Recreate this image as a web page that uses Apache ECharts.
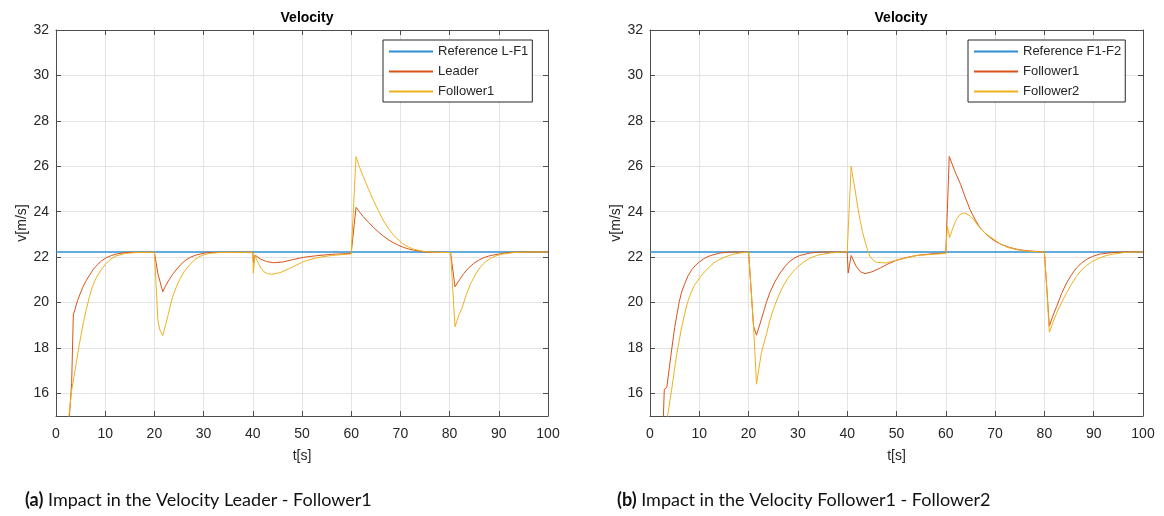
<!DOCTYPE html>
<html>
<head>
<meta charset="utf-8">
<script src="https://cdn.jsdelivr.net/npm/echarts@6/dist/echarts.min.js"></script>
<style>
html,body{margin:0;padding:0;background:#fff;}
#c{width:1164px;height:516px;}
</style>
</head>
<body>
<div id="c"></div>
<script>
// ---- Data ----
const xTicks = [0,10,20,30,40,50,60,70,80,90,100];
const yTicks = [16,18,20,22,24,26,28,30,32];

const refA = [[0,22.22],[100,22.22]];
const leaderA = [[2.7,14.9],[3.18,16.44],[3.52,19.45],[4.4,20.1],[5.4,20.65],[6.1,20.95],[6.8,21.2],[7.6,21.47],[8.5,21.68],[9.3,21.84],[10.2,21.97],[11.2,22.06],[12.2,22.13],[14.2,22.2],[16,22.21],[20,22.21],[20.7,21.28],[21.7,20.47],[22.3,20.75],[23,21.0],[23.7,21.24],[24.4,21.43],[25.4,21.68],[26.4,21.87],[27.4,22.0],[28.5,22.09],[30.5,22.19],[33,22.21],[40,22.21],[40.15,21.75],[40.45,22.09],[41.5,21.92],[42.8,21.8],[44.2,21.75],[46,21.78],[48,21.88],[50.3,21.99],[53,22.06],[56,22.12],[60,22.16],[60.98,24.19],[61.7,23.98],[62.46,23.78],[63.5,23.53],[64.5,23.31],[65.5,23.11],[66.5,22.93],[67.5,22.77],[68.6,22.63],[69.6,22.52],[70.6,22.43],[71.6,22.36],[72.6,22.31],[74,22.26],[75.3,22.22],[78,22.21],[80.2,22.2],[81.1,20.69],[82,21.0],[82.9,21.28],[83.9,21.53],[84.9,21.72],[85.9,21.86],[86.9,21.97],[87.9,22.04],[88.9,22.09],[91.6,22.19],[94,22.22],[100,22.22]];
const follower1A = [[2.57,14.9],[3.2,16.14],[4.1,17.3],[4.7,18.1],[5.4,18.93],[6.1,19.65],[6.8,20.25],[7.4,20.7],[8.1,21.06],[9.1,21.42],[10.2,21.72],[11.2,21.92],[12.2,22.05],[14.2,22.16],[16.3,22.2],[20,22.21],[20.3,20.99],[20.7,19.23],[21.1,18.8],[21.7,18.54],[22.2,18.95],[22.7,19.37],[23.2,19.83],[23.7,20.25],[24.4,20.65],[25.1,21.0],[26.1,21.37],[27.1,21.65],[28.1,21.86],[29.1,22.02],[30.1,22.1],[31.2,22.16],[33.2,22.2],[40,22.21],[40.1,21.28],[40.45,22.09],[40.8,21.88],[41.2,21.7],[41.7,21.5],[42.3,21.35],[43,21.27],[43.8,21.24],[45.5,21.31],[47.5,21.5],[50.3,21.8],[53,21.97],[56,22.07],[60,22.14],[60.98,26.42],[61.7,25.95],[62.46,25.54],[63.5,25.0],[64.5,24.51],[65.5,24.05],[66.5,23.63],[67.5,23.28],[68.6,22.97],[69.6,22.75],[70.6,22.57],[71.6,22.45],[72.6,22.35],[74,22.28],[75.3,22.23],[78,22.2],[80.2,22.2],[81.1,18.93],[81.8,19.4],[82.6,19.8],[83.4,20.35],[84.3,20.84],[85.3,21.25],[86.3,21.57],[87.3,21.79],[88.3,21.94],[89.3,22.04],[90.4,22.12],[93.1,22.2],[96,22.22],[100,22.22]];

const refB = [[0,22.22],[100,22.22]];
const follower1B = [[2.7,14.9],[2.9,16.18],[3.4,16.25],[4.2,17.6],[5.0,18.9],[5.9,20.0],[6.4,20.45],[7.0,20.8],[7.7,21.17],[8.5,21.45],[9.3,21.65],[10.1,21.8],[11.1,21.95],[12.2,22.06],[14.2,22.18],[16.2,22.22],[20,22.22],[21.0,18.96],[21.6,18.56],[22.3,19.05],[23,19.55],[23.6,20.0],[24.3,20.43],[25.3,20.9],[26.4,21.3],[27.4,21.59],[28.4,21.82],[29.4,21.97],[30.4,22.07],[32.5,22.18],[34.5,22.22],[40,22.22],[40.2,21.3],[40.8,22.07],[41.8,21.6],[42.7,21.35],[43.6,21.27],[45,21.35],[46.7,21.52],[48.3,21.7],[50,21.86],[52,21.98],[54.1,22.07],[57,22.14],[60,22.18],[60.7,26.43],[61.8,25.8],[63.0,25.2],[64.0,24.6],[64.9,24.1],[65.9,23.67],[66.9,23.3],[68.3,22.98],[69.7,22.74],[71.3,22.55],[73,22.42],[74.7,22.33],[76.4,22.28],[80,22.22],[81.0,18.96],[81.7,19.4],[82.5,19.83],[83.5,20.4],[84.5,20.86],[85.5,21.22],[86.5,21.52],[87.5,21.73],[88.5,21.89],[89.8,22.03],[91.2,22.13],[93.9,22.2],[97,22.23],[100,22.23]];
const follower2B = [[3.5,14.9],[4.4,16.18],[5.4,17.7],[6.5,19.0],[7.6,20.0],[8.3,20.42],[9,20.75],[10.3,21.15],[11.2,21.38],[12.2,21.6],[13.2,21.78],[14.2,21.9],[15.2,22.0],[16.2,22.08],[17.2,22.14],[18.3,22.18],[20,22.22],[21.0,18.96],[21.6,16.4],[22.1,17.1],[22.6,17.79],[23.7,18.67],[24.3,19.2],[25,19.69],[26,20.25],[27,20.72],[28,21.08],[29.1,21.38],[30.1,21.6],[31.1,21.77],[32.4,21.95],[33.8,22.07],[36.5,22.18],[39,22.22],[40,22.22],[40.8,25.99],[41.2,25.45],[41.6,24.97],[42.1,24.25],[42.6,23.65],[43.1,23.12],[43.6,22.7],[44.1,22.33],[44.6,22.04],[45.2,21.88],[45.9,21.77],[47.9,21.74],[50,21.86],[54.1,22.07],[60,22.16],[60.3,23.36],[60.8,22.86],[61.3,23.2],[62,23.6],[62.8,23.86],[63.6,23.94],[64.3,23.9],[65,23.8],[65.7,23.64],[66.3,23.45],[67.1,23.25],[68,23.05],[68.8,22.92],[69.7,22.79],[71.1,22.58],[72.6,22.42],[74.5,22.32],[76.4,22.26],[80,22.22],[80.4,20.9],[81.0,18.69],[81.7,19.1],[82.5,19.54],[83.5,20.0],[84.5,20.42],[85.5,20.81],[86.5,21.15],[87.5,21.42],[88.5,21.62],[89.8,21.82],[91.2,21.96],[92.5,22.06],[93.9,22.13],[96.6,22.21],[100,22.23]];

const namesA = ['Reference L-F1','Leader','Follower1'];
const namesB = ['Reference F1-F2','Follower1 ','Follower2'];

// ---- Styles ----
const C_BLUE = '#2f8fd2', C_RED = '#D95319', C_YEL = '#EDB120';
const TXT = '#262626', AX = '#4d4d4d', GRIDC = '#e3e3e3';
const FONT = '"Liberation Sans", Arial, sans-serif';

function xAxes(gi){
  return [{
    type:'value', gridIndex:gi, min:0, max:100, interval:10, position:'bottom',
    name:'t[s]', nameLocation:'middle', nameGap:33,
    nameTextStyle:{color:TXT,fontSize:14,fontFamily:FONT},
    axisLine:{show:true,onZero:false,lineStyle:{color:AX}},
    axisTick:{show:true,inside:true,length:5,lineStyle:{color:AX}},
    axisLabel:{color:TXT,fontSize:14,fontFamily:FONT,margin:11},
    splitLine:{show:true,lineStyle:{color:GRIDC}}
  },{
    type:'value', gridIndex:gi, min:0, max:100, interval:10, position:'top',
    axisLine:{show:true,onZero:false,lineStyle:{color:AX}},
    axisTick:{show:true,inside:true,length:5,lineStyle:{color:AX}},
    axisLabel:{show:false}, splitLine:{show:false}
  }];
}
function yAxes(gi){
  return [{
    type:'value', gridIndex:gi, min:15, max:32, position:'left',
    name:'v[m/s]', nameLocation:'middle', nameGap:26, nameRotate:90,
    nameTextStyle:{color:TXT,fontSize:14,fontFamily:FONT},
    axisLine:{show:true,onZero:false,lineStyle:{color:AX}},
    axisTick:{show:true,inside:true,length:5,lineStyle:{color:AX},customValues:yTicks},
    axisLabel:{color:TXT,fontSize:14,fontFamily:FONT,margin:7,customValues:yTicks},
    splitLine:{show:true,lineStyle:{color:GRIDC}}
  },{
    type:'value', gridIndex:gi, min:15, max:32, position:'right',
    axisLine:{show:true,onZero:false,lineStyle:{color:AX}},
    axisTick:{show:true,inside:true,length:5,lineStyle:{color:AX},customValues:yTicks},
    axisLabel:{show:false,customValues:yTicks}, splitLine:{show:false}
  }];
}
function ln(name, data, color, xi, yi, w){
  return {type:'line', name:name, data:data, xAxisIndex:xi, yAxisIndex:yi,
    symbol:'none', showSymbol:false, silent:true, animation:false,
    lineStyle:{color:color,width:w}, itemStyle:{color:color}};
}
function legend(left, names){
  return {left:left, top:40, orient:'vertical', data:names,
    itemWidth:44, itemHeight:12, itemGap:7, padding:[5,4,4,5],
    itemStyle:{opacity:0},
    backgroundColor:'#fff', borderColor:TXT, borderWidth:1,
    textStyle:{color:TXT,fontSize:13,fontFamily:FONT},
    formatter: n => n.trim(), selectedMode:false};
}

const chart = echarts.init(document.getElementById('c'), null, {renderer:'canvas'});
chart.setOption({
  backgroundColor:'#fff',
  animation:false,
  title:[
    {text:'Velocity', left:302, top:6, textAlign:'center', textStyle:{fontSize:14,fontWeight:'bold',color:'#000',fontFamily:FONT}},
    {text:'Velocity', left:896, top:6, textAlign:'center', textStyle:{fontSize:14,fontWeight:'bold',color:'#000',fontFamily:FONT}},
    {text:'{b|(a)} Impact in the Velocity Leader - Follower1', left:20, top:486,
      textStyle:{fontSize:18,fontWeight:'normal',color:'#111',fontFamily:'Lato, "Open Sans", sans-serif',rich:{b:{fontSize:18,fontWeight:'bold',color:'#111',fontFamily:'Lato, sans-serif'}}}},
    {text:'{b|(b)} Impact in the Velocity Follower1 - Follower2', left:612, top:486,
      textStyle:{fontSize:18,fontWeight:'normal',color:'#111',fontFamily:'Lato, "Open Sans", sans-serif',rich:{b:{fontSize:18,fontWeight:'bold',color:'#111',fontFamily:'Lato, sans-serif'}}}}
  ],
  legend:[legend(383, namesA), legend(968, namesB)],
  grid:[
    {left:56, top:30, width:492, height:386, show:false},
    {left:650, top:30, width:493, height:386, show:false}
  ],
  xAxis:[...xAxes(0), ...xAxes(1)],
  yAxis:[...yAxes(0), ...yAxes(1)],
  series:[
    ln(namesA[0], refA, C_BLUE, 0, 0, 1.6),
    ln(namesA[1], leaderA, C_RED, 0, 0, 1),
    ln(namesA[2], follower1A, C_YEL, 0, 0, 1),
    ln(namesB[0], refB, C_BLUE, 2, 2, 1.6),
    ln(namesB[1], follower1B, C_RED, 2, 2, 1),
    ln(namesB[2], follower2B, C_YEL, 2, 2, 1)
  ]
});
</script>
</body>
</html>
